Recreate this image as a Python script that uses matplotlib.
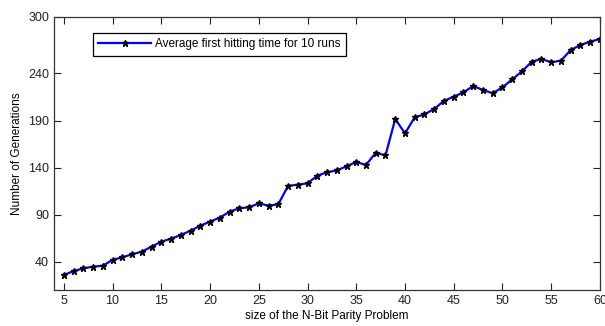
import matplotlib.pyplot as plt

# N-bit parity problem sizes and average first hitting time (10 runs)
sizes = list(range(5, 61))
avg_gens = [26, 30, 33, 34.8, 35.8, 42, 44.7, 47.9, 50.7, 56,
            61.3, 64.5, 68.4, 73, 78.3, 82.6, 86.8, 93.2, 96.8, 97.8,
            102, 99.6, 101, 120.5, 121.9, 123.3, 131.4, 135, 137, 141.4,
            146, 142.8, 155.8, 153, 191.6, 176.4, 193.5, 196.6, 202.3, 211,
            215.3, 220, 226.7, 222.4, 219, 225.3, 233.8, 242.3, 252.5, 255.4,
            251.9, 253.6, 265, 270.2, 273.8, 276.6]
x_ticks = [5, 10, 15, 20, 25, 30, 35, 40, 45, 50, 55, 60]
y_ticks = [40, 90, 140, 190, 240, 300]

plt.rcParams['font.family'] = ['Liberation Sans', 'DejaVu Sans']

fig = plt.figure(figsize=(6.05, 3.26), dpi=100)
ax = fig.add_axes([0.0893, 0.1104, 0.9024, 0.8375])

ax.plot(sizes, avg_gens, '-', color='#0000ff', lw=1.6,
        marker='*', ms=4.5, mfc='black', mec='black',
        label='Average first hitting time for 10 runs')

ax.set_xlim(4, 60)
ax.set_ylim(10, 300)
ax.set_xticks(x_ticks)
ax.set_yticks(y_ticks)
ax.tick_params(direction='in', top=True, right=True, labelsize=9,
               length=5, width=0.8, colors='#222222')
for s in ax.spines.values():
    s.set_linewidth(0.9)
    s.set_color('#333333')

ax.set_xlabel('size of the N-Bit Parity Problem', fontsize=8.5, labelpad=2)
ax.set_ylabel('Number of Generations', fontsize=8.5, labelpad=4)

leg = ax.legend(loc='upper left', bbox_to_anchor=(0.071, 0.941),
                borderaxespad=0, fancybox=False, framealpha=1,
                fontsize=8.5, handlelength=4.5, borderpad=0.45,
                handletextpad=0.3)
leg.get_frame().set_edgecolor('black')
leg.get_frame().set_linewidth(0.9)

fig.savefig('out.png', dpi=100)
